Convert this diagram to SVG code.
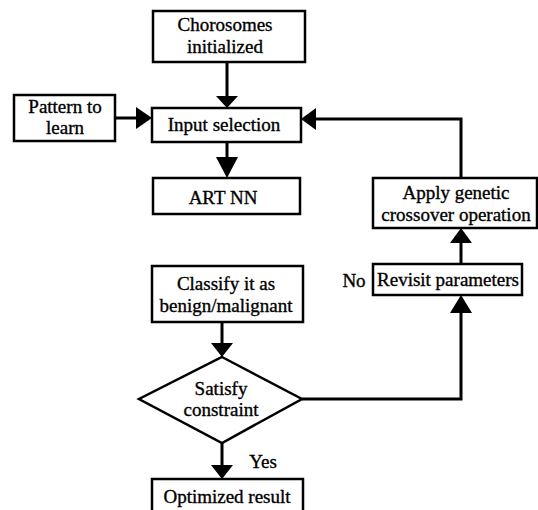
<svg xmlns="http://www.w3.org/2000/svg" width="538" height="510" viewBox="0 0 538 510">
<style>
.box{fill:#fff;stroke:#000;stroke-width:2.5}
.ln{fill:none;stroke:#000;stroke-width:3}
.hd{fill:#000;stroke:none}
.t{font-family:'Liberation Serif','Times New Roman','DejaVu Serif',serif;font-size:19px;fill:#000;stroke:#000;stroke-width:0.35;text-anchor:middle}
</style>
<rect width="538" height="510" fill="#fff"/>
<g id="connectors">
<line class="ln" x1="227" y1="62" x2="227" y2="97"/>
<polygon class="hd" points="216,96 238,96 227,108"/>
<line class="ln" x1="115" y1="118" x2="137" y2="118"/>
<polygon class="hd" points="136,107 152,118 136,129"/>
<line class="ln" x1="227" y1="142" x2="227" y2="158"/>
<polygon class="hd" points="216,157 238,157 227,178"/>
<polyline class="ln" points="461,178 461,119 315,119"/>
<polygon class="hd" points="301,119 316,108 316,130"/>
<line class="ln" x1="461" y1="264" x2="461" y2="242"/>
<polygon class="hd" points="450,243 472,243 461,228"/>
<line class="ln" x1="222" y1="322" x2="222" y2="344"/>
<polygon class="hd" points="211,343 233,343 222,357"/>
<polyline class="ln" points="302,399 461,399 461,312"/>
<polygon class="hd" points="450,313 472,313 461,295"/>
<line class="ln" x1="222" y1="443" x2="222" y2="466"/>
<polygon class="hd" points="211,465 233,465 222,479"/>
</g>
<g id="chorosomes">
<rect class="box" x="153" y="11" width="152" height="51"/>
<text class="t" x="225" y="31">Chorosomes</text>
<text class="t" x="225" y="53">initialized</text>
</g>
<g id="pattern">
<rect class="box" x="14" y="95" width="101" height="46"/>
<text class="t" x="65" y="113">Pattern to</text>
<text class="t" x="65" y="134">learn</text>
</g>
<g id="input">
<rect class="box" x="152" y="108" width="149" height="34"/>
<text class="t" x="224" y="131">Input selection</text>
</g>
<g id="artnn">
<rect class="box" x="153" y="178" width="147" height="36"/>
<text class="t" x="223" y="204">ART NN</text>
</g>
<g id="apply">
<rect class="box" x="373" y="178" width="164" height="50"/>
<text class="t" x="456" y="199">Apply genetic</text>
<text class="t" x="456" y="221">crossover operation</text>
</g>
<g id="revisit">
<rect class="box" x="373" y="264" width="149" height="31"/>
<text class="t" x="448" y="286">Revisit parameters</text>
<text class="t" x="354" y="287">No</text>
</g>
<g id="classify">
<rect class="box" x="152" y="266" width="151" height="56"/>
<text class="t" x="226" y="290">Classify it as</text>
<text class="t" x="226" y="312">benign/malignant</text>
</g>
<g id="satisfy">
<polygon class="box" points="222,357 302,399 222,443 139,399"/>
<text class="t" x="221" y="395">Satisfy</text>
<text class="t" x="221" y="416">constraint</text>
</g>
<g id="optimized">
<rect class="box" x="152" y="479" width="151" height="36"/>
<text class="t" x="263" y="468">Yes</text>
<text class="t" x="227" y="503">Optimized result</text>
</g>
</svg>
